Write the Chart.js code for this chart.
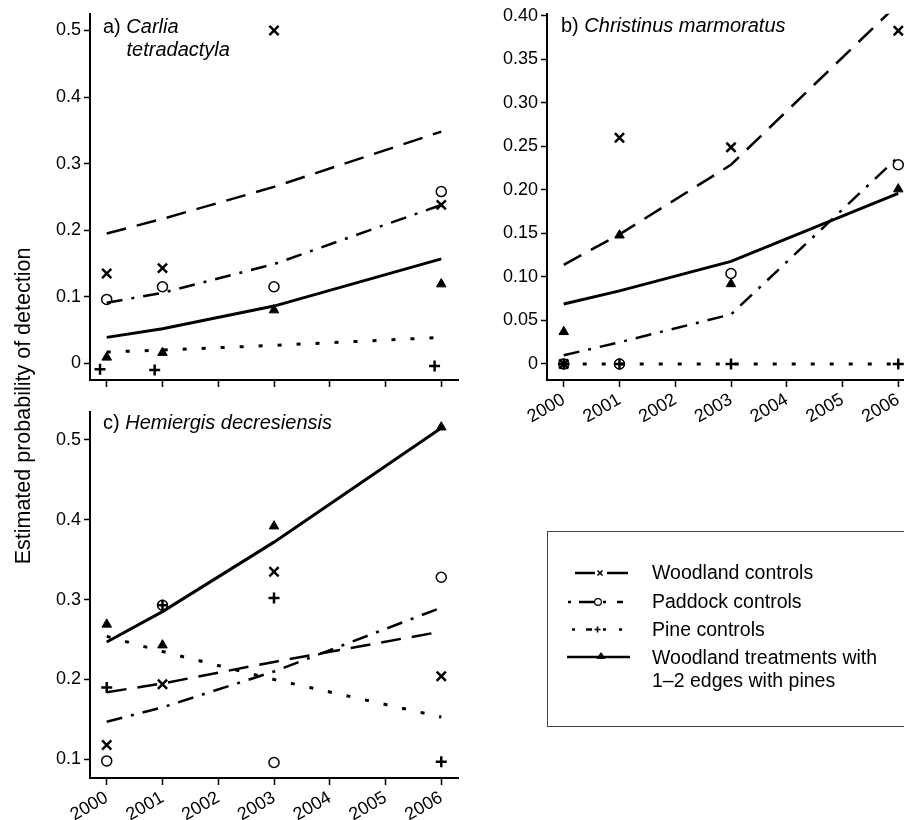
<!DOCTYPE html>
<html>
<head>
<meta charset="utf-8">
<script src="https://cdn.jsdelivr.net/npm/chart.js@4.4.1/dist/chart.umd.min.js"></script>
<style>
  html, body { margin: 0; padding: 0; background: #fff; }
  body { width: 904px; height: 820px; overflow: hidden; position: relative;
         font-family: "Liberation Sans", Arial, sans-serif; color: #000; }
  canvas { position: absolute; }
  .ttl { position: absolute; white-space: nowrap; font-size: 20px; line-height: 20px; }
  .ttl i { font-style: italic; }
  .lg { position: absolute; white-space: nowrap; font-size: 19.5px; line-height: 19.5px; left: 652px; }
  #ylab { position: absolute; left: 0; top: 0; white-space: nowrap; font-size: 21.5px; line-height: 21.5px;
          transform-origin: 0 0; transform: translate(12.5px, 406px) rotate(-90deg) translate(-50%, 0); }
  #legbox { position: absolute; left: 547px; top: 531px; width: 420px; height: 196px;
            box-sizing: border-box; border: 1.5px solid #444; }
  #legsym { position: absolute; left: 0; top: 0; }
</style>
</head>
<body>
<canvas id="cA" width="470" height="395" style="left:0;top:0"></canvas>
<canvas id="cB" width="480" height="430" style="left:460px;top:0"></canvas>
<canvas id="cC" width="470" height="425" style="left:0;top:395px"></canvas>

<div class="ttl" style="left:103px;top:15.5px">a) <i>Carlia</i></div>
<div class="ttl" style="left:126.5px;top:39px"><i>tetradactyla</i></div>
<div class="ttl" style="left:561px;top:15px">b) <i>Christinus marmoratus</i></div>
<div class="ttl" style="left:103px;top:411.5px">c) <i>Hemiergis decresiensis</i></div>

<div id="ylab">Estimated probability of detection</div>

<div id="legbox"></div>
<svg id="legsym" width="904" height="820" xmlns="http://www.w3.org/2000/svg">
  <g stroke="#000" fill="none">
    <!-- woodland controls -->
    <line x1="575" y1="573" x2="595" y2="573" stroke-width="2.5"/>
    <line x1="607" y1="573" x2="628" y2="573" stroke-width="2.5"/>
    <path d="M597.5 570.5 L602.5 575.5 M597.5 575.5 L602.5 570.5" stroke-width="1.6"/>
    <!-- paddock controls -->
    <line x1="568" y1="602" x2="571" y2="602" stroke-width="2.5"/>
    <line x1="579" y1="602" x2="594" y2="602" stroke-width="2.5"/>
    <circle cx="598" cy="602" r="3.4" stroke-width="1.2" fill="#fff"/>
    <line x1="603" y1="602" x2="606" y2="602" stroke-width="2.5"/>
    <line x1="617" y1="602" x2="623" y2="602" stroke-width="2.5"/>
    <!-- pine controls -->
    <line x1="572" y1="629.5" x2="575" y2="629.5" stroke-width="2.5"/>
    <line x1="586" y1="629.5" x2="592" y2="629.5" stroke-width="2.5"/>
    <path d="M594.5 629.5 L600.5 629.5 M597.5 626.5 L597.5 632.5" stroke-width="1.6"/>
    <line x1="603" y1="629.5" x2="606" y2="629.5" stroke-width="2.5"/>
    <line x1="619" y1="629.5" x2="622" y2="629.5" stroke-width="2.5"/>
    <!-- woodland treatments -->
    <line x1="567" y1="657" x2="630" y2="657" stroke-width="2.5"/>
    <path d="M601 652.5 L605 658.5 L597 658.5 Z" fill="#000" stroke-width="0.8"/>
  </g>
</svg>
<div class="lg" style="top:562.5px">Woodland controls</div>
<div class="lg" style="top:591.8px">Paddock controls</div>
<div class="lg" style="top:620.2px">Pine controls</div>
<div class="lg" style="top:647.5px">Woodland treatments with</div>
<div class="lg" style="top:670.8px">1–2 edges with pines</div>

<script>
// Survey years and axis ticks
const years = [2000, 2001, 2003, 2006];
const xTicks = [2000, 2001, 2002, 2003, 2004, 2005, 2006];
const xTickLabels = ['2000', '2001', '2002', '2003', '2004', '2005', '2006'];

// a) Carlia tetradactyla
const aWoodPts  = [0.135, 0.143, 0.500, 0.238];
const aWoodFit  = [0.195, 0.217, 0.265, 0.348];
const aPadPts   = [0.096, 0.115, 0.115, 0.258];
const aPadFit   = [0.091, 0.106, 0.149, 0.238];
const aPineYears = [1999.88, 2000.86, 2005.88];
const aPinePts  = [-0.009, -0.010, -0.004];
const aPineFit  = [0.017, 0.020, 0.027, 0.039];
const aTrtPts   = [0.009, 0.016, 0.080, 0.119];
const aTrtFit   = [0.039, 0.052, 0.086, 0.157];
const aYTicks   = [0, 0.1, 0.2, 0.3, 0.4, 0.5];
const aYLabels  = ['0', '0.1', '0.2', '0.3', '0.4', '0.5'];

// b) Christinus marmoratus
const bWoodPts  = [0, 0.260, 0.249, 0.383];
const bWoodFit  = [0.114, 0.149, 0.229, 0.414];
const bPadPts   = [0, 0, 0.104, 0.229];
const bPadFit   = [0.010, 0.025, 0.057, 0.238];
const bPinePts  = [0, 0, 0, 0];
const bPineFit  = [0, 0, 0, 0];
const bTrtPts   = [0.037, 0.148, 0.092, 0.201];
const bTrtFit   = [0.069, 0.084, 0.118, 0.196];
const bYTicks   = [0, 0.05, 0.10, 0.15, 0.20, 0.25, 0.30, 0.35, 0.40];
const bYLabels  = ['0', '0.05', '0.10', '0.15', '0.20', '0.25', '0.30', '0.35', '0.40'];

// c) Hemiergis decresiensis
const cWoodPts  = [0.118, 0.194, 0.335, 0.204];
const cWoodFit  = [0.184, 0.195, 0.222, 0.260];
const cPadPts   = [0.098, 0.293, 0.096, 0.328];
const cPadFit   = [0.147, 0.165, 0.210, 0.290];
const cPinePts  = [0.190, 0.293, 0.302, 0.097];
const cPineFit  = [0.254, 0.235, 0.200, 0.153];
const cTrtPts   = [0.269, 0.243, 0.392, 0.516];
const cTrtFit   = [0.247, 0.285, 0.372, 0.515];
const cYTicks   = [0.1, 0.2, 0.3, 0.4, 0.5];
const cYLabels  = ['0.1', '0.2', '0.3', '0.4', '0.5'];

const xy = (xs, ys) => xs.map((x, i) => ({ x: x, y: ys[i] }));

const lineStyles = {
  wood: { borderDash: [20, 11], borderWidth: 2.5 },
  pad:  { borderDash: [16, 9, 3, 9], borderWidth: 2.5 },
  pine: { borderDash: [4, 15], borderWidth: 3 },
  trt:  { borderDash: [], borderWidth: 3 }
};
// open circles stay hollow so coincident symbols show through
const markStyles = {
  wood: { pointStyle: 'crossRot', pointRadius: 6.5, pointBorderWidth: 2.5, pointBackgroundColor: '#000' },
  pad:  { pointStyle: 'circle', pointRadius: 5, pointBorderWidth: 1.5, pointBackgroundColor: 'rgba(0,0,0,0)' },
  pine: { pointStyle: 'cross', pointRadius: 5.5, pointBorderWidth: 2.5, pointBackgroundColor: '#000' },
  trt:  { pointStyle: 'triangle', pointRadius: 5.5, pointBorderWidth: 1, pointBackgroundColor: '#000' }
};

function fitSet(key, ys) {
  return Object.assign({
    data: xy(years, ys), borderColor: '#000', pointRadius: 0, fill: false,
    tension: 0, borderCapStyle: 'butt', showLine: true
  }, lineStyles[key]);
}
function markSet(key, xs, ys) {
  return Object.assign({
    data: xy(xs, ys), showLine: false, pointBorderColor: '#000', borderColor: '#000'
  }, markStyles[key]);
}

const tickFont = { family: '"Liberation Sans", Arial, sans-serif', size: 18 };

function panel(id, p) {
  const cv = document.getElementById(id);
  const W = cv.width, H = cv.height;
  new Chart(cv, {
    type: 'line',
    data: { datasets: p.datasets },
    options: {
      responsive: false, animation: false, devicePixelRatio: 1, events: [],
      layout: { padding: { left: 0, top: p.area.top, right: W - p.area.right, bottom: 0 } },
      plugins: { legend: { display: false }, tooltip: { enabled: false }, title: { display: false } },
      scales: {
        x: {
          type: 'linear', min: 1999.7, max: 2006.3, bounds: 'data',
          afterBuildTicks: s => { s.ticks = xTicks.map(v => ({ value: v })); },
          afterFit: s => { s.height = H - p.area.bottom; },
          ticks: {
            display: p.showX, autoSkip: false, minRotation: 30, maxRotation: 30, padding: 2,
            font: tickFont, color: '#000',
            callback: v => xTickLabels[xTicks.indexOf(v)]
          },
          grid: { drawOnChartArea: false, drawTicks: true, tickLength: 7, tickWidth: 1.5, tickColor: '#000' },
          border: { display: true, color: '#000', width: 2 }
        },
        y: {
          type: 'linear', min: p.yMin, max: p.yMax, bounds: 'data',
          afterBuildTicks: s => { s.ticks = p.yTicks.map(v => ({ value: v })); },
          afterFit: s => { s.width = p.area.left; },
          ticks: {
            padding: 3, font: tickFont, color: '#000',
            callback: v => p.yLabels[p.yTicks.indexOf(v)]
          },
          grid: { drawOnChartArea: false, drawTicks: true, tickLength: 6, tickWidth: 1.5, tickColor: '#000' },
          border: { display: true, color: '#000', width: 2 }
        }
      }
    }
  });
}

panel('cA', {
  area: { left: 90, top: 12, right: 458, bottom: 380 },
  yMin: -0.025, yMax: 0.525, yTicks: aYTicks, yLabels: aYLabels, showX: false,
  datasets: [
    markSet('wood', years, aWoodPts), markSet('pad', years, aPadPts),
    markSet('pine', aPineYears, aPinePts), markSet('trt', years, aTrtPts),
    fitSet('wood', aWoodFit), fitSet('pad', aPadFit), fitSet('pine', aPineFit), fitSet('trt', aTrtFit)
  ]
});

panel('cB', {
  area: { left: 87, top: 13, right: 455, bottom: 380 },
  yMin: -0.0184, yMax: 0.4025, yTicks: bYTicks, yLabels: bYLabels, showX: true,
  datasets: [
    markSet('wood', years, bWoodPts), markSet('pad', years, bPadPts),
    markSet('pine', years, bPinePts), markSet('trt', years, bTrtPts),
    fitSet('wood', bWoodFit), fitSet('pad', bPadFit), fitSet('pine', bPineFit), fitSet('trt', bTrtFit)
  ]
});

panel('cC', {
  area: { left: 90, top: 17, right: 458, bottom: 383 },
  yMin: 0.0766, yMax: 0.535, yTicks: cYTicks, yLabels: cYLabels, showX: true,
  datasets: [
    markSet('wood', years, cWoodPts), markSet('pad', years, cPadPts),
    markSet('pine', years, cPinePts), markSet('trt', years, cTrtPts),
    fitSet('wood', cWoodFit), fitSet('pad', cPadFit), fitSet('pine', cPineFit), fitSet('trt', cTrtFit)
  ]
});
</script>
</body>
</html>
